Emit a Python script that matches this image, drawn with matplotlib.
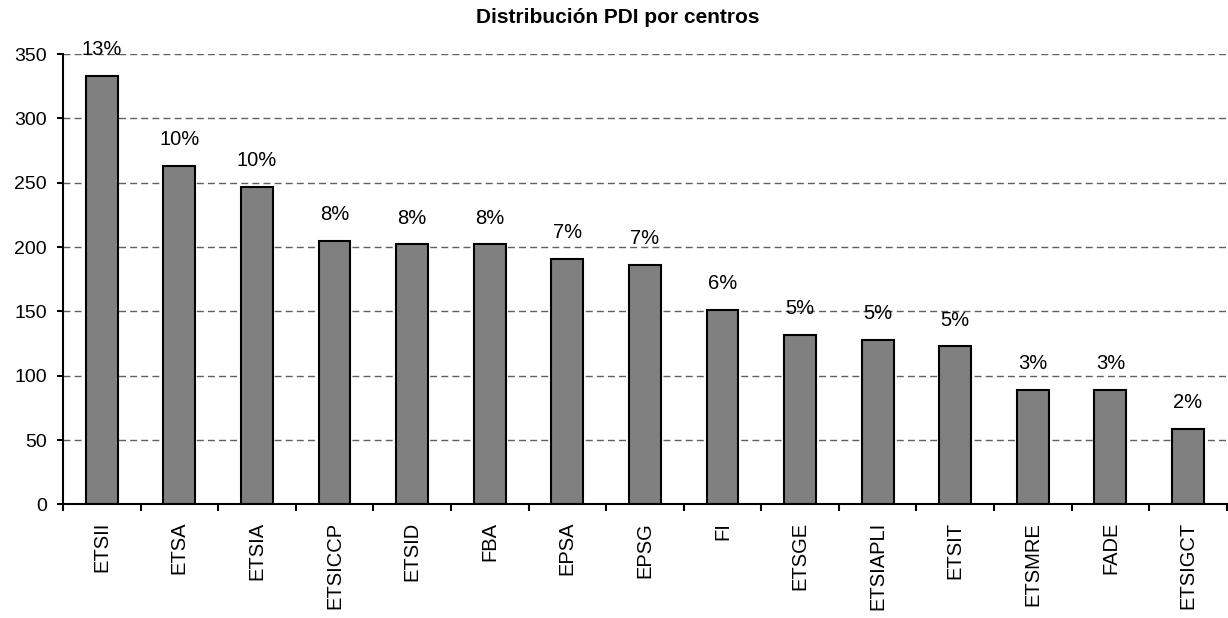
import numpy as np
import matplotlib
matplotlib.use("Agg")
import matplotlib.pyplot as plt

plt.rcParams['font.family'] = ['Liberation Sans', 'DejaVu Sans']

centros = ["ETSII", "ETSA", "ETSIA", "ETSICCP", "ETSID", "FBA", "EPSA", "EPSG",
           "FI", "ETSGE", "ETSIAPLI", "ETSIT", "ETSMRE", "FADE", "ETSIGCT"]
pdi = [333, 263, 247, 205, 202, 202, 191, 186, 151, 132, 128, 123, 89, 89, 59]
porcentajes = ["13%", "10%", "10%", "8%", "8%", "8%", "7%", "7%",
               "6%", "5%", "5%", "5%", "3%", "3%", "2%"]
yticks = [0, 50, 100, 150, 200, 250, 300, 350]

fig = plt.figure(figsize=(12.28, 6.18), dpi=100)
ax = fig.add_axes([0.0513, 0.1837, 0.9477, 0.7289])

x = np.arange(len(centros))
bars = ax.bar(x, pdi, width=0.41, color="#808080", edgecolor="black",
              linewidth=1.5, zorder=3)

for xi, val, lab in zip(x, pdi, porcentajes):
    ax.annotate(lab, (xi, val), xytext=(0, 12), textcoords="offset points",
                ha="center", va="bottom", fontsize=14.5, color="black")

ax.set_xlim(-0.5, len(centros) - 0.5)
ax.set_ylim(0, 350)
ax.set_yticks(yticks)
ax.yaxis.grid(True, linestyle=(0, (5, 3)), color="#606060", linewidth=1.0, zorder=0)
ax.set_axisbelow(True)

# ticks at the category boundaries, labels at the centres
ax.set_xticks(np.arange(len(centros) + 1) - 0.5)
ax.set_xticklabels([])
ax.set_xticks(x, minor=True)
ax.set_xticklabels(centros, minor=True, rotation=90, fontsize=14.5, va="top")
ax.tick_params(axis="x", which="major", length=5, width=1.5, direction="out")
ax.tick_params(axis="x", which="minor", length=0, pad=12.5)
ax.tick_params(axis="y", length=4.5, width=1.5, pad=7, labelsize=14)

for s in ["top", "right"]:
    ax.spines[s].set_visible(False)
for s in ["left", "bottom"]:
    ax.spines[s].set_linewidth(1.5)
    ax.spines[s].set_zorder(4)

fig.text(0.503, 0.971, "Distribución PDI por centros", ha="center", va="center",
         fontsize=15, fontweight="bold")

fig.savefig("out.png", dpi=100)
